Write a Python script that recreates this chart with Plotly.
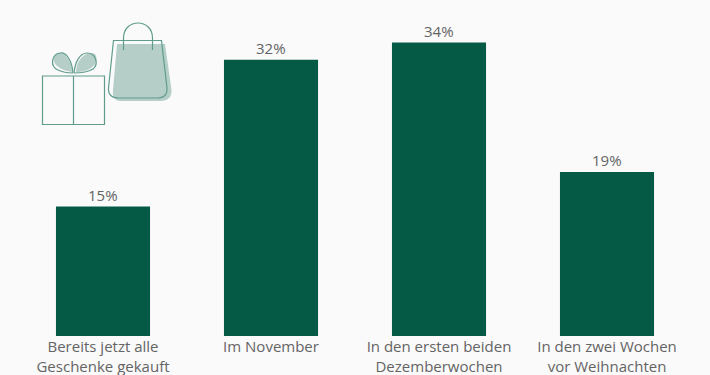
import plotly.graph_objects as go

categories = ["Bereits jetzt alle<br>Geschenke gekauft", "Im November",
              "In den ersten beiden<br>Dezemberwochen", "In den zwei Wochen<br>vor Weihnachten"]
values = [15, 32, 34, 19]
value_labels = ["15%", "32%", "34%", "19%"]

BG = "#fafafa"
BAR = "#055a46"
LINE = "#5f9c8c"
FILL = "#b5cfc8"
TEXT = "#646464"
FONT = "Open Sans"

fig = go.Figure(go.Bar(
    x=categories, y=values, cliponaxis=False,
    marker=dict(color=BAR, line=dict(width=0)), hoverinfo="skip",
))


def sh(path, fill=None, line=None, width=1.2):
    return dict(type="path", xref="x domain", yref="y domain", path=path,
                fillcolor=fill or "rgba(0,0,0,0)",
                line=dict(color=line or "rgba(0,0,0,0)", width=width))


PW, PH = 672.0, 336.0
X0 = 19.0


def P(d):
    out = []
    for tok in d.split():
        if "," in tok:
            a, b = tok.split(",")
            out.append(f"{(float(a)-X0)/PW:.5f},{1-float(b)/PH:.5f}")
        else:
            out.append(tok)
    return " ".join(out)


icons = [
    # bag shadow
    sh(P("M 117,44 L 165,44 L 171.5,90 Q 172,101 160,101 L 121,101 Q 112,101 113,90 Z"), fill=FILL),
    # bow shadows
    sh(P("M 73,72 C 71,58 62,50 56,54 C 50,58 54,70 73,72 Z"), fill=FILL),
    sh(P("M 76,72 C 76,58 88,50 95,54 C 100,62 92,72 76,72 Z"), fill=FILL),
    # box
    sh(P("M 42.5,76 L 104.5,76 L 104.5,124.5 L 42.5,124.5 Z"), line=LINE),
    sh(P("M 73.5,76 L 73.5,124.5"), line=LINE),
    # bow outlines
    sh(P("M 73,73 C 72,60 66,52 60,53 C 52,54 49,66 58,70 C 62,72 68,73 73,73"), line=LINE),
    sh(P("M 74,73 C 75,62 80,53 87,53 C 96,53 99,64 93,69 C 88,72 80,73 74,73"), line=LINE),
    # bag outline
    sh(P("M 113.5,40.5 L 161.5,40.5 L 167,88 Q 167.5,98 157,98 L 119,98 Q 108,98 108.5,88 Z"), line=LINE),
    # bag handle
    sh(P("M 123.5,50 L 123.5,38 C 123.5,18 152.5,18 152.5,38 L 152.5,50"), line=LINE),
]

annotations = [
    dict(x=c, y=v, text=t, xref="x", yref="y", showarrow=False, yanchor="bottom",
         yshift=0, font=dict(family=FONT, size=15, color=TEXT))
    for c, v, t in zip(categories, values, value_labels)
]

fig.update_layout(
    width=710, height=375, autosize=False,
    margin=dict(l=19, r=19, t=0, b=39, autoexpand=False),
    paper_bgcolor=BG, plot_bgcolor=BG,
    bargap=0.44, showlegend=False, shapes=icons, annotations=annotations,
    xaxis=dict(type="category", showgrid=False, zeroline=False, showline=False,
               ticks="", ticklen=0, tickangle=0, automargin=False,
               tickfont=dict(family=FONT, size=15, color=TEXT)),
    yaxis=dict(range=[0, 38.93], visible=False, showgrid=False, zeroline=False),
    font=dict(family=FONT),
)

fig.write_html("out.html", config=dict(displayModeBar=False), post_script=(
    "document.body.style.margin='0';document.body.style.overflow='hidden';"
    f"document.body.style.background='{BG}';"
))
